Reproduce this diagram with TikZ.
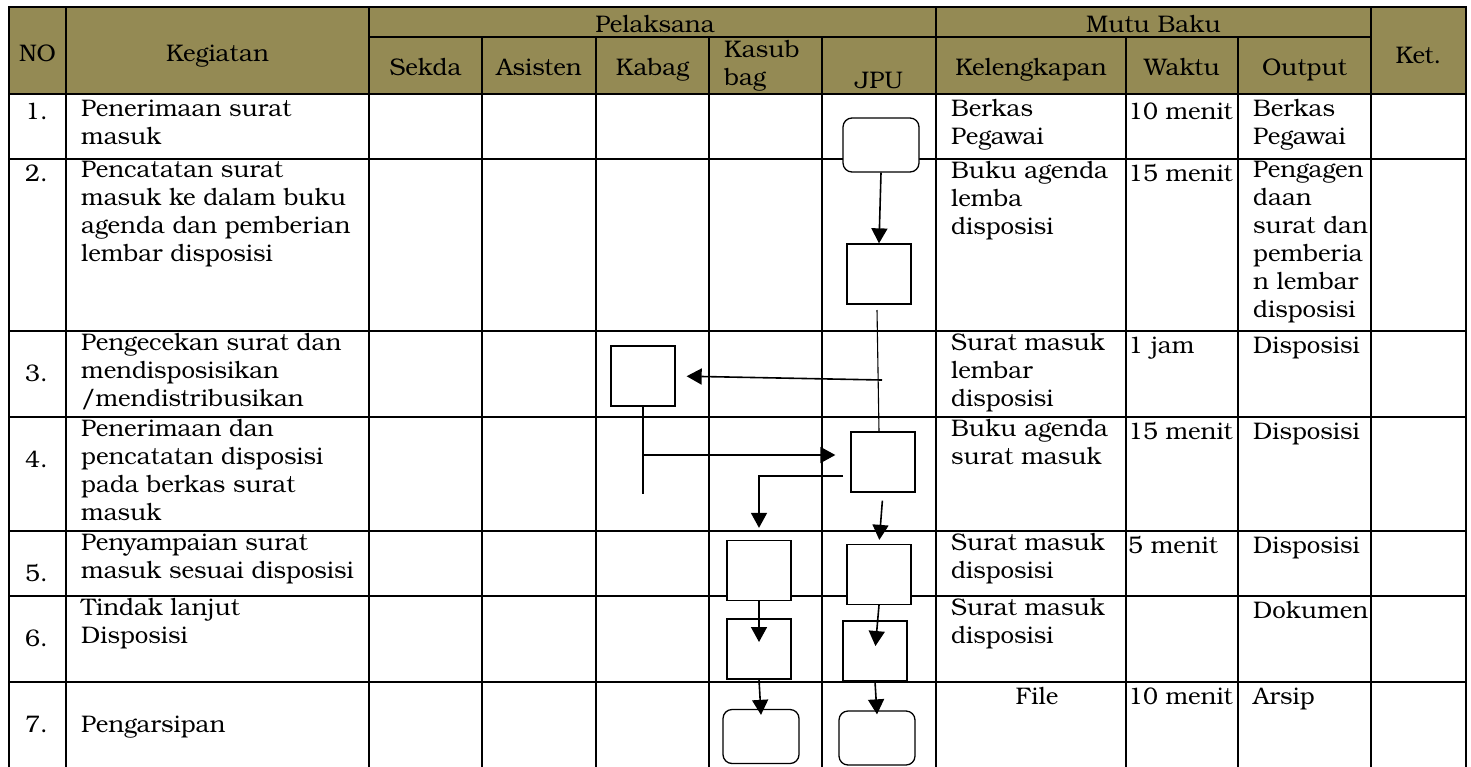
\documentclass[tikz,border=0pt]{standalone}
\usepackage{fontspec}
\setmainfont{texgyrebonum-regular.otf}
\usetikzlibrary{arrows.meta}
\definecolor{zaitun}{HTML}{948A54}

\begin{document}
\begin{tikzpicture}[x=1pt, y=-1pt,
    font=\fontsize{24}{28}\selectfont,
    garis/.style={line width=1.6pt, line cap=rect},
    judul/.style={anchor=base, inner sep=0pt},
    isi/.style={anchor=north west, inner xsep=0pt, inner ysep=2.4pt, align=left, execute at begin node=\strut},
    proses/.style={draw, fill=white, line width=1.3pt, inner sep=0pt, minimum width=64pt, minimum height=60pt},
    terminal/.style={proses, rounded corners=9pt, minimum width=76pt, minimum height=54pt},
    alur/.style={line width=1.6pt, -{Triangle[length=15pt, width=16pt]}},
    sambung/.style={line width=1.1pt}]
    \useasboundingbox (0,0) rectangle (1471,766);

    % kepala tabel
    \fill[zaitun] (9,7) rectangle (1466,94);
    \foreach \y in {7,94,159,331,417,531,596,682}
        \draw[garis] (9,\y) -- (1466,\y);
    \draw[garis] (369,37) -- (1371,37);
    \foreach \x in {9,66,369,936,1371,1466}
        \draw[garis] (\x,7) -- (\x,766);
    \foreach \x in {482,596,709,822,1126,1238}
        \draw[garis] (\x,37) -- (\x,766);

    \node[judul] (hNo) at (37.5,61) {NO};
    \node[judul] (hKegiatan) at (217.5,61) {Kegiatan};
    \node[judul] (hPelaksana) at (655,32) {Pelaksana};
    \node[judul] (hMutu) at (1153.5,32) {Mutu Baku};
    \node[judul] (hKet) at (1418.5,63) {Ket.};
    \node[judul] (hSekda) at (425.5,75) {Sekda};
    \node[judul] (hAsisten) at (539,75) {Asisten};
    \node[judul] (hKabag) at (652.5,75) {Kabag};
    \node[isi] (hKasub) at (724,38) {Kasub\\bag};
    \node[judul] (hJpu) at (879,88) {JPU};
    \node[judul] (hKel) at (1031,75) {Kelengkapan};
    \node[judul] (hWaktu) at (1182,75) {Waktu};
    \node[judul] (hOutput) at (1304.5,75) {Output};

    % isi tabel
    \foreach \n/\y in {1/97,2/159,3/359,4/445,5/559,6/624,7/710}
        \node[isi] (no\n) at (25,\y) {\n.};

    \node[isi] (kegSatu) at (81,97) {Penerimaan surat\\masuk};
    \node[isi] (kegDua) at (81,159) {Pencatatan surat\\masuk ke dalam buku\\agenda dan pemberian\\lembar disposisi};
    \node[isi] (kegTiga) at (81,331) {Pengecekan surat dan\\mendisposisikan\\/mendistribusikan};
    \node[isi] (kegEmpat) at (81,417) {Penerimaan dan\\pencatatan disposisi\\pada berkas surat\\masuk};
    \node[isi] (kegLima) at (81,531) {Penyampaian surat\\masuk sesuai disposisi};
    \node[isi] (kegEnam) at (81,596) {Tindak lanjut\\Disposisi};
    \node[isi] (kegTujuh) at (81,710) {Pengarsipan};

    \node[isi] (kelSatu) at (951,97) {Berkas\\Pegawai};
    \node[isi] (kelDua) at (951,159) {Buku agenda\\lemba\\disposisi};
    \node[isi] (kelTiga) at (951,331) {Surat masuk\\lembar\\disposisi};
    \node[isi] (kelEmpat) at (951,417) {Buku agenda\\surat masuk};
    \node[isi] (kelLima) at (951,531) {Surat masuk\\disposisi};
    \node[isi] (kelEnam) at (951,596) {Surat masuk\\disposisi};
    \node[isi, anchor=north] (kelTujuh) at (1037,682) {File};

    \node[isi] (wktSatu) at (1128,97) {10 menit};
    \node[isi] (wktDua) at (1128,159) {15 menit};
    \node[isi] (wktTiga) at (1128,331) {1 jam};
    \node[isi] (wktEmpat) at (1128,417) {15 menit};
    \node[isi] (wktLima) at (1128,531) {5 menit};
    \node[isi] (wktTujuh) at (1128,682) {10 menit};

    \node[isi] (outSatu) at (1253,97) {Berkas\\Pegawai};
    \node[isi] (outDua) at (1253,159) {Pengagen\\daan\\surat dan\\pemberia\\n lembar\\disposisi};
    \node[isi] (outTiga) at (1253,331) {Disposisi};
    \node[isi] (outEmpat) at (1253,417) {Disposisi};
    \node[isi] (outLima) at (1253,531) {Disposisi};
    \node[isi] (outEnam) at (1253,596) {Dokumen};
    \node[isi] (outTujuh) at (1253,682) {Arsip};

    % bagan alir
    \node[terminal] (jpuStart) at (881,145) {};
    \node[proses] (jpuTwo) at (879,274) {};
    \node[proses] (kabagThree) at (643,376) {};
    \node[proses] (jpuFour) at (883,462) {};
    \node[proses] (kasubFive) at (759,570.5) {};
    \node[proses] (jpuFive) at (879,574.5) {};
    \node[proses] (kasubSix) at (759,649) {};
    \node[proses] (jpuSix) at (875,651) {};
    \node[terminal] (kasubEnd) at (761,736.5) {};
    \node[terminal] (jpuEnd) at (877,738) {};

    \coordinate (splitTwo) at (877,310);
    \coordinate (splitThree) at (882,380);
    \coordinate (joinFour) at (879,432);
    \coordinate (branchFour) at (643,455);
    \coordinate (tailFour) at (643,494);
    \coordinate (splitFour) at (843,476);

    \draw[alur] (jpuStart.south) -- (jpuTwo.north);
    \draw[sambung] (splitTwo) -- (joinFour);
    \draw[alur, shorten >=11pt] (splitThree) -- (kabagThree.east);
    \draw[sambung] (kabagThree.south) -- (tailFour);
    \draw[alur, shorten >=15pt] (branchFour) -- (branchFour -| jpuFour.west);
    \draw[alur, shorten >=12pt] (splitFour) -| (kasubFive.north);
    \draw[alur, shorten <=8pt, shorten >=4pt] (jpuFour.south) -- (jpuFive.north);
    \draw[alur, shorten >=7pt] (kasubFive.south) -- (kasubSix.center);
    \draw[alur, shorten >=5pt] (jpuFive.south) -- (jpuSix.center);
    \draw[alur] (kasubSix.south) -- ([yshift=-6pt]kasubEnd.north);
    \draw[alur] (jpuSix.south) -- ([yshift=-4pt]jpuEnd.north);
\end{tikzpicture}
\end{document}
